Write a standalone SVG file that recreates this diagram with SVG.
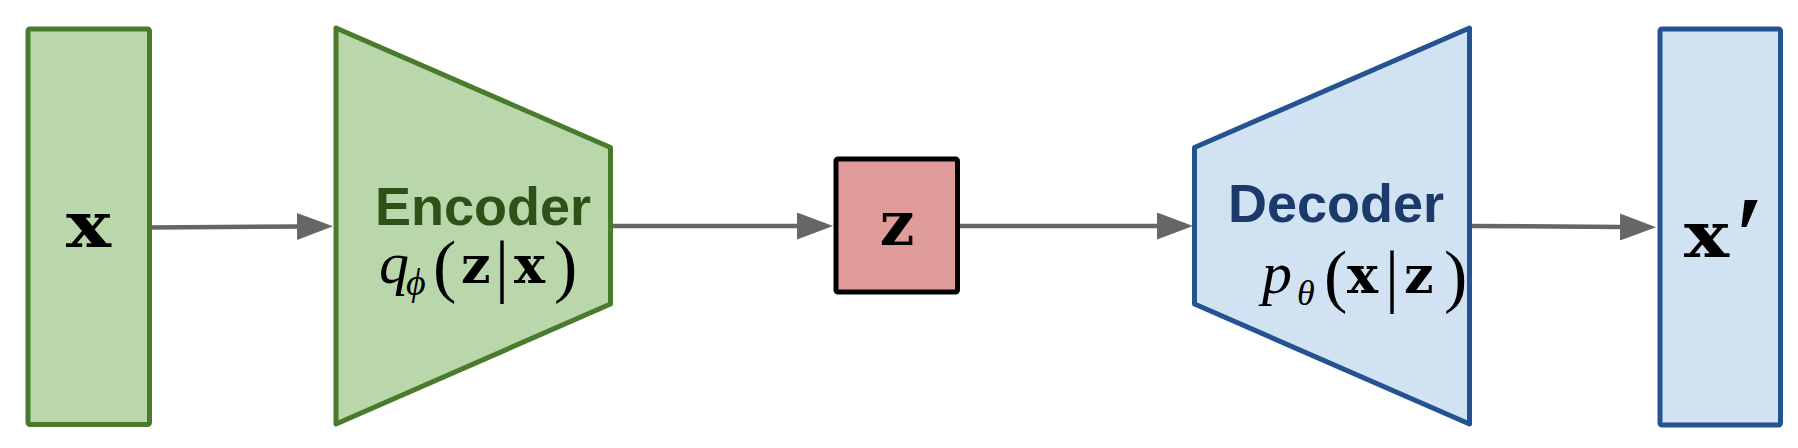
<svg xmlns="http://www.w3.org/2000/svg" width="1798" height="448" viewBox="0 0 1798 448">
<style>
.g{fill:#bad7ab;stroke:#4a7a2b;stroke-width:5;stroke-linejoin:round}
.b{fill:#d1e2f2;stroke:#245392;stroke-width:5;stroke-linejoin:round}
.r{fill:#e09b9b;stroke:#000;stroke-width:5;stroke-linejoin:round}
.lbl{font-family:"Liberation Sans",Arial,sans-serif;font-weight:bold;font-size:54px}
.bm{font-family:"DejaVu Serif",serif;font-weight:bold;fill:#000}
.it{font-family:"Liberation Serif","DejaVu Serif",serif;font-style:italic;fill:#000}
.rm{font-family:"Liberation Serif",serif;fill:#000}
.c{stroke:#666;stroke-width:4.5;fill:none;marker-end:url(#ah)}
</style>
<defs>
<marker id="ah" markerUnits="userSpaceOnUse" markerWidth="36" markerHeight="27" refX="2" refY="13.5" orient="auto">
<path d="M0,0 L36,13.5 L0,27 Z" fill="#666"/>
</marker>
</defs>
<g id="connectors">
<line class="c" x1="149" y1="227.5" x2="299" y2="226.5"/>
<line class="c" x1="611" y1="226" x2="799" y2="226"/>
<line class="c" x1="958" y1="226" x2="1159" y2="226"/>
<line class="c" x1="1470" y1="226" x2="1622" y2="227"/>
</g>
<g id="input-x">
<rect class="g" x="28" y="29" width="121.5" height="395.5" rx="2"/>
<text class="bm" transform="translate(88.5,247) scale(1.18,1)" x="0" y="0" font-size="64" text-anchor="middle">x</text>
</g>
<g id="encoder">
<polygon class="g" points="336,28 610.5,147.5 610.5,304 336,424"/>
<text class="lbl" x="375" y="225" fill="#2c5217">Encoder</text>
<text y="283"><tspan class="it" x="379" font-size="60">q</tspan><tspan class="it" x="406" y="295" font-size="38">ϕ</tspan><tspan class="rm" x="433" y="289" font-size="70">(</tspan><tspan class="bm" x="461" y="283" font-size="52">z</tspan><tspan class="rm" x="495" y="289" font-size="70">|</tspan><tspan class="bm" x="514" y="283" font-size="52">x</tspan><tspan class="rm" x="554" y="289" font-size="70">)</tspan></text>
</g>
<g id="latent-z">
<rect class="r" x="836" y="159" width="121.5" height="133" rx="2"/>
<text class="bm" x="897" y="245" font-size="61" text-anchor="middle">z</text>
</g>
<g id="decoder">
<polygon class="b" points="1194.5,147.5 1469.5,28 1469.5,424 1194.5,304"/>
<text class="lbl" x="1228" y="222" fill="#1b3a6b">Decoder</text>
<text y="293"><tspan class="it" x="1262" font-size="60">p</tspan><tspan class="it" x="1297" y="305" font-size="36">θ</tspan><tspan class="rm" x="1324" y="299" font-size="70">(</tspan><tspan class="bm" x="1347" y="293" font-size="52">x</tspan><tspan class="rm" x="1385" y="299" font-size="70">|</tspan><tspan class="bm" x="1404" y="293" font-size="52">z</tspan><tspan class="rm" x="1444" y="299" font-size="70">)</tspan></text>
</g>
<g id="output-x-prime">
<rect class="b" x="1660" y="29" width="120.5" height="396" rx="2"/>
<text transform="translate(1684,257) scale(1.18,1)" y="0"><tspan class="bm" x="0" font-size="64">x</tspan><tspan class="rm" x="43" y="18" font-size="115">′</tspan></text>
</g>
</svg>
